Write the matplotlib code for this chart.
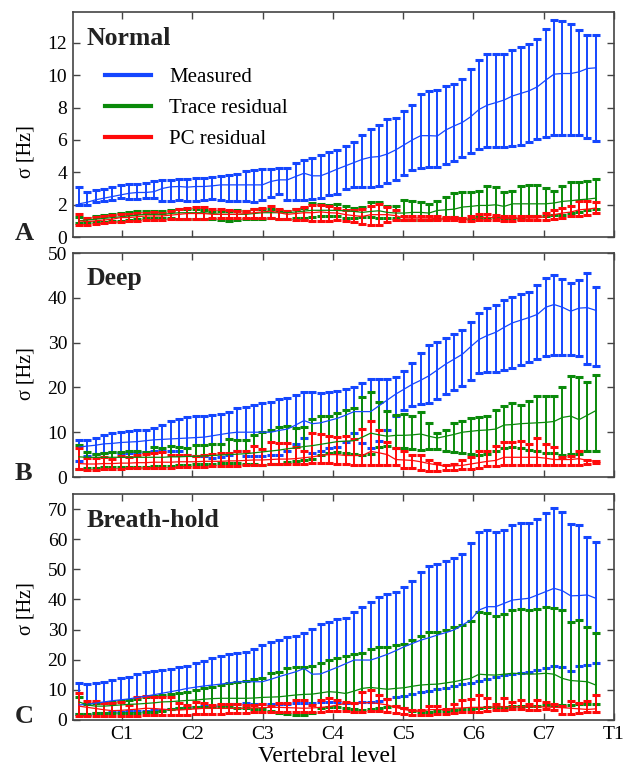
import numpy as np
import matplotlib
matplotlib.use("Agg")
import matplotlib.pyplot as plt
from matplotlib.lines import Line2D

plt.rcParams['font.family'] = ['Liberation Serif', 'DejaVu Serif']

# Positions along the cervical spine (C1 = 1 ... T1 = 8)
level_pos = np.linspace(0.39, 7.74, 63)
level_ticks = [1, 2, 3, 4, 5, 6, 7, 8]
level_labels = ['C1', 'C2', 'C3', 'C4', 'C5', 'C6', 'C7', 'T1']
series_names = ['Measured', 'Trace residual', 'PC residual']

# ---------------- Normal breathing ----------------
normal_meas_mean = [2.05, 2.15, 2.3, 2.4, 2.5, 2.6, 2.7, 2.75, 2.75, 2.8,
                    3.0, 3.1, 3.12, 3.08, 3.12, 3.12, 3.16, 3.22, 3.22, 3.22,
                    3.22, 3.22, 3.22, 3.43, 3.53, 3.53, 3.74, 3.94, 3.78, 3.78,
                    3.98, 4.2, 4.4, 4.6, 4.8, 4.93, 4.97, 5.13, 5.38, 5.69,
                    6.0, 6.26, 6.26, 6.24, 6.61, 6.86, 7.08, 7.43, 7.88, 8.15,
                    8.3, 8.46, 8.71, 8.87, 9.03, 9.28, 9.69, 10.06, 10.1, 10.1,
                    10.2, 10.41, 10.45]
normal_meas_lo = [2.0, 2.0, 2.15, 2.2, 2.3, 2.4, 2.36, 2.36, 2.4, 2.4,
                  2.2, 2.2, 2.3, 2.24, 2.24, 2.26, 2.34, 2.3, 2.24, 2.2,
                  2.2, 2.15, 2.3, 2.5, 2.65, 2.3, 2.3, 2.3, 2.34, 2.4,
                  2.6, 2.65, 2.96, 3.08, 3.08, 3.08, 3.16, 3.33, 3.53, 3.84,
                  4.11, 4.25, 4.31, 4.31, 4.5, 4.7, 4.97, 5.22, 5.42, 5.59,
                  5.59, 5.59, 5.63, 5.69, 5.89, 6.04, 6.2, 6.3, 6.3, 6.3,
                  6.3, 6.1, 5.93]
normal_meas_hi = [3.08, 2.77, 2.9, 2.98, 3.06, 3.2, 3.26, 3.28, 3.33, 3.43,
                  3.5, 3.53, 3.57, 3.6, 3.63, 3.65, 3.7, 3.74, 3.8, 3.9,
                  4.09, 4.15, 4.2, 4.2, 4.25, 4.25, 4.56, 4.76, 4.87, 5.07,
                  5.24, 5.38, 5.63, 5.85, 6.3, 6.65, 6.92, 7.31, 7.37, 7.78,
                  8.15, 8.81, 9.03, 9.08, 9.34, 9.45, 9.77, 10.37, 10.96, 11.33,
                  11.33, 11.33, 11.54, 11.75, 11.91, 12.26, 12.87, 13.39, 13.35, 13.14,
                  12.81, 12.46, 12.46]

normal_trace_mean = [1.0, 1.05, 1.1, 1.15, 1.2, 1.25, 1.3, 1.35, 1.4, 1.4,
                     1.4, 1.45, 1.5, 1.5, 1.5, 1.5, 1.45, 1.4, 1.4, 1.4,
                     1.4, 1.45, 1.5, 1.5, 1.5, 1.5, 1.55, 1.6, 1.65, 1.65,
                     1.65, 1.64, 1.62, 1.58, 1.52, 1.58, 1.62, 1.52, 1.48, 1.48,
                     1.52, 1.52, 1.48, 1.64, 1.68, 1.72, 1.85, 1.89, 1.95, 1.95,
                     1.99, 1.89, 2.05, 2.05, 2.05, 2.05, 2.05, 2.1, 2.2, 2.24,
                     2.3, 2.34, 2.4]
normal_trace_lo = [0.85, 0.9, 0.95, 0.95, 1.0, 1.0, 1.05, 1.1, 1.15, 1.2,
                   1.2, 1.15, 1.1, 1.1, 1.1, 1.1, 1.1, 1.05, 1.0, 1.05,
                   1.1, 1.1, 1.1, 1.15, 1.1, 1.1, 1.15, 1.2, 1.25, 1.3,
                   1.3, 1.27, 1.17, 1.17, 1.22, 1.22, 1.17, 1.17, 1.17, 1.07,
                   1.07, 1.03, 1.07, 1.13, 1.17, 1.22, 1.17, 1.13, 1.22, 1.17,
                   1.22, 1.17, 1.17, 1.13, 1.27, 1.27, 1.27, 1.38, 1.38, 1.48,
                   1.54, 1.64, 1.72]
normal_trace_hi = [1.25, 1.2, 1.3, 1.35, 1.4, 1.5, 1.55, 1.6, 1.6, 1.6,
                   1.6, 1.65, 1.7, 1.75, 1.7, 1.65, 1.6, 1.6, 1.6, 1.65,
                   1.6, 1.7, 1.75, 1.7, 1.65, 1.6, 1.7, 1.8, 2.1, 2.05,
                   1.95, 2.05, 1.89, 1.79, 1.85, 2.16, 2.16, 1.93, 1.93, 2.3,
                   2.2, 2.16, 2.05, 2.24, 2.46, 2.71, 2.77, 2.75, 2.87, 3.12,
                   3.08, 2.81, 2.87, 3.12, 3.22, 3.22, 3.02, 2.85, 3.12, 3.37,
                   3.37, 3.43, 3.57]

normal_pc_mean = [1.0, 0.95, 1.0, 1.05, 1.1, 1.2, 1.2, 1.25, 1.3, 1.3,
                  1.3, 1.35, 1.4, 1.45, 1.45, 1.45, 1.4, 1.4, 1.4, 1.4,
                  1.45, 1.5, 1.55, 1.6, 1.5, 1.4, 1.45, 1.5, 1.5, 1.55,
                  1.5, 1.48, 1.38, 1.32, 1.27, 1.38, 1.38, 1.38, 1.32, 1.17,
                  1.17, 1.17, 1.17, 1.13, 1.11, 1.11, 1.07, 1.13, 1.17, 1.23,
                  1.17, 1.13, 1.13, 1.17, 1.17, 1.17, 1.27, 1.38, 1.48, 1.54,
                  1.68, 1.72, 1.79]
normal_pc_lo = [0.75, 0.75, 0.8, 0.85, 0.9, 0.95, 1.0, 1.0, 1.05, 1.05,
                1.05, 1.1, 1.1, 1.1, 1.1, 1.1, 1.15, 1.2, 1.2, 1.2,
                1.2, 1.2, 1.15, 1.15, 1.1, 1.1, 1.05, 1.05, 1.0, 1.0,
                1.0, 1.07, 0.97, 0.9, 0.82, 0.76, 0.76, 0.9, 1.07, 1.07,
                1.07, 1.07, 1.07, 1.03, 1.03, 1.03, 0.97, 0.97, 1.03, 1.07,
                1.07, 0.97, 0.97, 1.03, 1.03, 1.07, 1.07, 1.11, 1.17, 1.27,
                1.31, 1.38, 1.48]
normal_pc_hi = [1.4, 1.2, 1.25, 1.3, 1.35, 1.4, 1.45, 1.5, 1.5, 1.55,
                1.5, 1.6, 1.7, 1.8, 1.85, 1.85, 1.75, 1.7, 1.65, 1.6,
                1.6, 1.7, 1.8, 1.9, 1.7, 1.6, 1.7, 1.85, 2.0, 1.95,
                1.9, 1.79, 1.64, 1.64, 1.72, 1.93, 2.03, 1.85, 1.64, 1.31,
                1.31, 1.27, 1.27, 1.27, 1.23, 1.23, 1.17, 1.27, 1.42, 1.42,
                1.38, 1.31, 1.31, 1.31, 1.27, 1.27, 1.48, 1.68, 1.79, 1.89,
                2.2, 2.2, 2.14]

# ---------------- Deep breathing ----------------
deep_meas_mean = [6.7, 6.9, 7.1, 7.4, 7.5, 7.7, 7.8, 7.9, 8.1, 8.3,
                  8.4, 8.5, 8.6, 8.7, 8.8, 8.9, 9.2, 9.5, 9.8, 10.0,
                  10.0, 10.0, 10.0, 10.0, 10.4, 10.7, 11.6, 12.6, 11.9, 12.1,
                  12.6, 13.1, 13.8, 14.6, 14.6, 14.6, 15.9, 17.2, 18.5, 19.6,
                  20.7, 21.6, 22.6, 23.9, 25.2, 26.3, 27.4, 29.1, 30.7, 31.6,
                  32.3, 33.4, 34.4, 35.0, 35.6, 36.3, 37.9, 38.5, 37.9, 37.0,
                  37.7, 37.8, 37.2]
deep_meas_lo = [3.5, 4.6, 5.1, 5.3, 5.6, 5.3, 5.3, 5.5, 5.5, 5.9,
                5.9, 5.7, 5.7, 5.0, 4.6, 4.6, 4.2, 4.4, 5.0, 5.9,
                4.7, 4.6, 4.6, 5.0, 5.0, 5.9, 7.4, 8.7, 5.3, 5.9,
                6.4, 6.8, 7.9, 9.9, 7.5, 6.4, 8.1, 10.5, 13.6, 15.0,
                15.8, 16.3, 16.6, 17.3, 18.6, 19.5, 20.4, 21.6, 23.2, 23.4,
                23.5, 23.9, 24.4, 25.0, 25.7, 26.3, 27.0, 27.3, 27.3, 27.3,
                27.0, 25.3, 24.7]
deep_meas_hi = [8.3, 8.3, 8.7, 9.3, 9.85, 10.1, 10.3, 10.4, 10.5, 10.9,
                11.6, 12.4, 13.0, 13.3, 13.6, 13.7, 13.9, 14.1, 14.4, 15.3,
                15.7, 16.1, 16.5, 16.8, 17.3, 17.6, 18.4, 19.0, 18.9, 18.7,
                18.9, 19.1, 19.6, 20.2, 21.0, 21.9, 21.9, 21.9, 22.4, 23.7,
                25.4, 27.6, 29.4, 30.2, 31.0, 32.0, 32.9, 34.7, 36.6, 37.7,
                38.5, 39.4, 40.1, 40.9, 41.3, 42.9, 44.4, 45.0, 44.1, 43.3,
                44.0, 45.6, 42.4]

deep_trace_mean = [4.5, 4.4, 4.4, 4.4, 4.4, 4.4, 4.4, 4.4, 4.4, 4.4,
                   4.4, 4.5, 4.5, 4.6, 4.6, 4.7, 4.8, 4.9, 5.0, 5.1,
                   5.2, 5.4, 5.6, 5.8, 6.0, 6.3, 6.5, 6.8, 7.0, 7.3,
                   7.6, 7.9, 8.0, 8.1, 8.9, 9.8, 9.4, 9.1, 9.3, 9.3,
                   9.4, 9.6, 9.1, 8.7, 9.1, 9.5, 10.0, 10.2, 10.4, 10.5,
                   10.7, 11.6, 11.7, 11.9, 12.0, 12.1, 12.2, 12.4, 13.3, 13.6,
                   12.8, 13.8, 14.8]
deep_trace_lo = [1.8, 2.0, 2.1, 2.2, 2.2, 2.2, 2.2, 2.3, 2.3, 2.4,
                 2.5, 2.5, 2.6, 2.7, 2.8, 2.9, 3.0, 3.1, 3.2, 3.1,
                 3.0, 2.8, 2.6, 2.8, 3.0, 3.3, 3.5, 3.8, 4.1, 4.8,
                 5.4, 5.6, 5.3, 5.2, 5.0, 5.2, 6.7, 7.0, 6.5, 6.4,
                 6.3, 6.1, 6.3, 6.3, 5.8, 5.6, 5.4, 5.2, 5.0, 5.2,
                 5.7, 6.4, 6.7, 6.4, 6.1, 5.7, 5.4, 5.3, 4.8, 5.2,
                 5.2, 5.7, 5.7]
deep_trace_hi = [7.2, 5.6, 5.2, 5.3, 5.6, 5.6, 5.9, 5.7, 5.6, 6.7,
                 6.4, 6.9, 6.7, 6.4, 7.2, 7.2, 7.4, 7.4, 8.4, 8.3,
                 8.3, 9.4, 10.1, 10.6, 11.1, 11.3, 11.0, 11.1, 13.0, 13.7,
                 13.7, 14.2, 15.0, 15.3, 17.8, 18.9, 16.7, 14.8, 13.9, 14.1,
                 13.6, 14.6, 12.1, 9.8, 10.6, 12.0, 12.6, 13.1, 13.3, 13.6,
                 15.0, 15.8, 16.5, 16.1, 16.9, 18.0, 18.0, 18.1, 20.2, 22.6,
                 22.4, 21.3, 22.7]

deep_pc_mean = [3.0, 2.9, 2.9, 3.0, 3.0, 3.1, 3.1, 3.2, 3.2, 3.3,
                3.3, 3.3, 3.4, 3.4, 3.4, 3.5, 3.5, 3.5, 3.6, 3.6,
                3.7, 3.8, 3.8, 3.9, 4.0, 4.0, 4.1, 4.3, 4.5, 4.8,
                5.0, 5.0, 4.8, 4.8, 4.8, 5.7, 5.4, 5.0, 3.9, 3.8,
                3.7, 3.4, 3.0, 2.7, 2.4, 2.5, 2.6, 2.9, 3.2, 3.5,
                3.7, 4.4, 4.4, 4.4, 4.4, 4.4, 4.2, 3.9, 3.9, 3.9,
                4.1, 3.7, 3.5]
deep_pc_lo = [1.8, 1.5, 1.6, 1.7, 1.8, 1.8, 1.9, 1.9, 2.0, 2.0,
              2.1, 2.1, 2.2, 2.2, 2.3, 2.3, 2.4, 2.4, 2.5, 2.5,
              2.6, 2.6, 2.7, 2.8, 2.8, 2.9, 3.0, 3.0, 3.1, 3.1,
              3.2, 3.0, 2.8, 2.6, 2.6, 2.6, 2.6, 2.7, 2.6, 2.0,
              1.9, 1.5, 1.3, 1.3, 1.5, 1.5, 1.8, 1.8, 2.0, 2.4,
              2.4, 2.7, 2.7, 2.7, 2.6, 2.7, 2.6, 2.7, 2.7, 2.6,
              2.6, 3.0, 3.2]
deep_pc_hi = [6.4, 4.2, 4.2, 4.4, 4.1, 4.7, 4.4, 4.8, 5.1, 5.3,
              5.6, 5.0, 4.8, 5.0, 4.6, 5.0, 5.2, 5.3, 5.3, 5.9,
              5.7, 6.9, 6.3, 7.8, 7.6, 7.6, 6.7, 5.9, 9.9, 9.6,
              9.1, 9.0, 9.1, 8.5, 10.7, 12.6, 10.5, 7.8, 6.4, 5.9,
              5.0, 5.0, 3.9, 3.2, 2.6, 2.8, 3.9, 4.4, 5.8, 5.9,
              7.0, 7.9, 7.8, 8.1, 7.4, 8.7, 7.4, 6.7, 4.4, 4.6,
              5.7, 3.9, 3.6]

# ---------------- Breath-hold ----------------
hold_meas_mean = [5.0, 5.2, 5.6, 6.0, 6.4, 6.7, 7.0, 7.5, 7.9, 8.4,
                  8.9, 9.4, 9.9, 10.5, 10.9, 11.3, 11.6, 11.9, 12.3, 12.7,
                  12.7, 12.7, 12.7, 13.5, 14.4, 15.2, 16.0, 17.1, 15.2, 15.3,
                  16.4, 17.5, 18.7, 19.9, 19.9, 19.9, 20.8, 21.8, 23.0, 24.3,
                  25.4, 26.5, 27.3, 28.2, 29.0, 29.9, 31.5, 33.2, 36.5, 37.6,
                  37.6, 38.7, 39.8, 40.1, 40.4, 41.5, 42.6, 43.7, 42.9, 41.2,
                  41.3, 41.5, 40.4]
hold_meas_lo = [2.0, 1.8, 2.2, 2.4, 2.6, 2.8, 3.0, 3.0, 3.0, 3.2,
                3.4, 3.6, 4.0, 4.2, 4.4, 4.6, 4.8, 5.0, 5.2, 5.4,
                5.5, 5.4, 5.3, 5.3, 5.3, 5.3, 5.5, 5.8, 5.8, 5.9,
                6.0, 6.1, 5.8, 5.8, 6.1, 6.1, 6.4, 6.9, 7.5, 8.0,
                8.5, 9.4, 9.7, 10.2, 10.7, 11.3, 11.8, 12.2, 13.1, 13.6,
                14.4, 14.9, 15.3, 15.5, 15.8, 16.6, 17.1, 17.9, 17.7, 16.4,
                17.9, 18.3, 18.8]
hold_meas_hi = [12.2, 11.8, 12.2, 12.7, 13.3, 13.8, 14.4, 15.2, 15.8, 16.3,
                16.6, 16.8, 17.5, 18.0, 19.0, 19.6, 20.5, 21.2, 21.9, 22.3,
                22.7, 23.5, 24.9, 25.8, 26.5, 27.4, 28.0, 29.0, 30.2, 31.7,
                32.6, 33.6, 33.7, 35.7, 37.4, 39.3, 40.9, 41.7, 42.4, 44.0,
                46.2, 49.2, 51.1, 51.7, 52.8, 53.7, 55.1, 58.6, 62.5, 63.1,
                62.3, 63.1, 64.7, 65.5, 65.3, 66.7, 68.8, 70.2, 68.9, 64.9,
                64.7, 60.8, 59.2]

hold_trace_mean = [6.0, 5.0, 4.6, 4.6, 4.8, 5.0, 5.2, 5.3, 5.5, 5.7,
                   6.0, 6.1, 6.3, 6.5, 6.6, 6.9, 7.1, 7.2, 7.2, 7.2,
                   7.2, 7.3, 7.5, 7.6, 7.7, 8.0, 8.3, 8.5, 8.6, 9.0,
                   9.4, 9.2, 8.8, 9.6, 10.5, 10.8, 10.5, 10.2, 10.5, 10.7,
                   11.2, 11.6, 11.8, 11.9, 12.3, 12.7, 13.3, 13.8, 15.2, 15.0,
                   14.9, 15.2, 15.5, 15.4, 15.2, 15.3, 15.5, 15.2, 13.8, 13.1,
                   12.9, 12.7, 11.6]
hold_trace_lo = [2.0, 2.0, 2.2, 2.2, 2.2, 2.3, 2.4, 2.4, 2.6, 2.8,
                 3.1, 3.5, 3.9, 4.1, 4.4, 4.4, 4.4, 4.3, 4.2, 4.0,
                 3.9, 3.7, 3.5, 3.0, 2.2, 1.9, 1.7, 1.7, 2.2, 3.9,
                 4.4, 4.4, 3.9, 3.5, 3.4, 3.6, 3.9, 4.4, 4.6, 3.9,
                 3.1, 2.8, 2.8, 3.1, 3.1, 3.3, 3.5, 3.6, 3.9, 4.2,
                 4.4, 4.4, 4.6, 4.7, 4.7, 4.8, 4.9, 5.0, 5.0, 5.1,
                 5.2, 5.3, 5.3]
hold_trace_hi = [7.7, 5.2, 5.5, 5.8, 6.1, 6.4, 6.6, 7.0, 7.5, 7.9,
                 8.3, 8.5, 8.8, 9.2, 10.0, 10.5, 10.8, 11.6, 12.2, 12.7,
                 13.1, 13.5, 14.0, 15.5, 16.0, 17.1, 17.7, 17.5, 17.9, 19.0,
                 19.9, 20.6, 21.2, 21.8, 22.3, 23.5, 24.3, 24.1, 24.9, 25.2,
                 26.5, 27.9, 29.1, 29.3, 29.9, 30.8, 31.5, 33.0, 35.7, 35.4,
                 34.5, 35.2, 36.5, 36.8, 36.5, 36.8, 37.4, 37.3, 36.5, 32.6,
                 33.2, 30.8, 29.0]

hold_pc_mean = [4.6, 4.2, 3.8, 3.4, 3.1, 3.2, 3.4, 3.6, 3.9, 3.8,
                3.6, 3.4, 3.3, 3.5, 3.7, 3.9, 3.9, 3.9, 3.9, 3.9,
                3.9, 4.0, 4.1, 4.2, 4.2, 4.1, 4.0, 3.9, 4.0, 4.2,
                4.4, 5.0, 5.5, 5.6, 5.7, 5.8, 5.4, 5.0, 4.2, 3.5,
                3.0, 3.0, 3.4, 3.5, 3.5, 3.9, 4.0, 4.2, 4.2, 4.2,
                4.3, 4.4, 4.4, 4.4, 4.4, 4.4, 4.3, 4.2, 4.1, 3.9,
                3.7, 3.5, 3.7]
hold_pc_lo = [1.3, 1.2, 1.2, 1.2, 1.3, 1.3, 1.4, 1.4, 1.5, 1.5,
              1.6, 1.6, 1.7, 1.8, 1.9, 2.0, 2.0, 2.1, 2.2, 2.3,
              2.4, 2.5, 2.5, 2.5, 2.5, 2.6, 2.6, 2.7, 2.7, 2.8,
              2.9, 3.1, 3.0, 2.8, 2.8, 3.1, 3.0, 2.8, 2.4, 2.0,
              1.7, 1.7, 1.7, 2.0, 2.0, 2.2, 2.8, 2.8, 2.8, 3.0,
              3.3, 3.3, 3.5, 3.5, 3.3, 3.3, 3.5, 3.3, 2.0, 2.0,
              2.2, 2.8, 2.8]
hold_pc_hi = [8.8, 6.4, 6.4, 5.8, 5.5, 6.1, 5.0, 7.5, 8.1, 7.7,
              7.7, 7.5, 5.5, 5.0, 6.1, 5.8, 5.0, 5.3, 5.2, 5.3,
              5.0, 5.0, 5.2, 4.6, 5.8, 5.8, 6.6, 6.6, 5.0, 6.6,
              7.2, 6.8, 6.1, 5.3, 9.4, 10.0, 8.3, 6.9, 4.8, 3.9,
              3.3, 3.3, 4.6, 4.6, 3.7, 5.2, 6.6, 6.9, 8.3, 7.4,
              5.3, 7.4, 6.1, 6.6, 5.3, 6.6, 6.1, 5.2, 4.8, 6.4,
              5.8, 6.4, 8.3]

panels = [
    dict(title='Normal', letter='A', ylim=(0, 13.9), yticks=[0, 2, 4, 6, 8, 10, 12],
         series=[(normal_meas_mean, normal_meas_lo, normal_meas_hi),
                 (normal_trace_mean, normal_trace_lo, normal_trace_hi),
                 (normal_pc_mean, normal_pc_lo, normal_pc_hi)],
         box=(12, 237), ylab_y=152),
    dict(title='Deep', letter='B', ylim=(0, 50), yticks=[0, 10, 20, 30, 40, 50],
         series=[(deep_meas_mean, deep_meas_lo, deep_meas_hi),
                 (deep_trace_mean, deep_trace_lo, deep_trace_hi),
                 (deep_pc_mean, deep_pc_lo, deep_pc_hi)],
         box=(253, 477), ylab_y=374),
    dict(title='Breath-hold', letter='C', ylim=(0, 75), yticks=[0, 10, 20, 30, 40, 50, 60, 70],
         series=[(hold_meas_mean, hold_meas_lo, hold_meas_hi),
                 (hold_trace_mean, hold_trace_lo, hold_trace_hi),
                 (hold_pc_mean, hold_pc_lo, hold_pc_hi)],
         box=(494, 720), ylab_y=609),
]

colors = ['#1446ff', '#0a8a0a', '#ff0a0a']

W, H = 625, 769
fig = plt.figure(figsize=(W / 100, H / 100), dpi=100)
ax_left, ax_right = 72.7, 614.0

for p in panels:
    top, bot = p['box']
    ax = fig.add_axes([ax_left / W, 1 - bot / H, (ax_right - ax_left) / W, (bot - top) / H])
    for (mean, lo, hi), c in zip(p['series'], colors):
        mean = np.asarray(mean, float)
        lo = np.asarray(lo, float)
        hi = np.asarray(hi, float)
        err = [np.maximum(mean - lo, 0), np.maximum(hi - mean, 0)]
        ax.errorbar(level_pos, mean, yerr=err, color=c, lw=0.9,
                    elinewidth=1.4, capsize=3.0, capthick=2.2)
    ax.set_xlim(0.3, 8.0)
    ax.set_ylim(*p['ylim'])
    ax.set_yticks(p['yticks'])
    ax.set_xticks(level_ticks)
    if p['letter'] == 'C':
        ax.set_xticklabels(level_labels)
    else:
        ax.set_xticklabels([])
    ax.tick_params(direction='in', top=True, right=True, length=5, width=1.0,
                   color='#444444', labelsize=14, pad=4)
    for s in ax.spines.values():
        s.set_color('#444444')
        s.set_linewidth(1.2)
    ax.text(0.026, 0.855, p['title'], transform=ax.transAxes, fontsize=18.5,
            fontweight='bold', va='baseline', ha='left', color='#222222')
    fig.text(15 / W, 1 - (bot + 3) / H, p['letter'], fontsize=19, fontweight='bold',
             va='baseline', ha='left', color='#222222')
    fig.text(26 / W, 1 - p['ylab_y'] / H, 'σ [Hz]', rotation=90, fontsize=14.5,
             ha='center', va='center')
    if p['letter'] == 'A':
        handles = [Line2D([], [], color=c, lw=3) for c in colors]
        ax.legend(handles, series_names, loc='upper left', bbox_to_anchor=(0.045, 0.79),
                  frameon=False, fontsize=15, handlelength=2.2, handletextpad=0.85,
                  labelspacing=0.55, borderaxespad=0)

fig.text(327 / W, 1 - 757 / H, 'Vertebral level', fontsize=17, ha='center', va='center')

fig.savefig('out.png', dpi=100)
